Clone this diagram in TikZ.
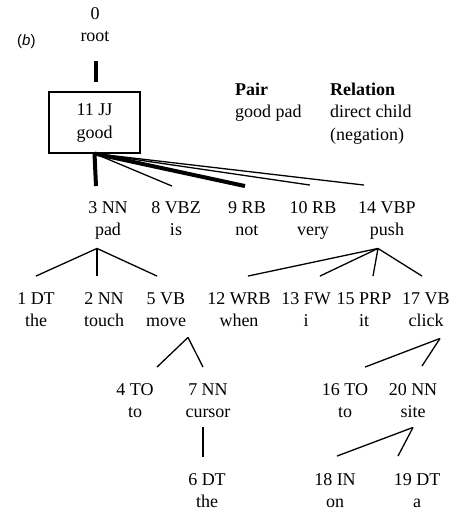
\documentclass[tikz,border=0pt]{standalone}
\usepackage{fontspec}
\setmainfont{Liberation Serif}
\newfontfamily\labelsans{Liberation Sans}
\usetikzlibrary{calc}
\begin{document}
\begin{tikzpicture}[x=1pt,y=-1pt,
  tok/.style={inner sep=0pt, align=center, font=\fontsize{18}{22.5}\selectfont},
  note/.style={inner sep=0pt, align=left, anchor=north west, font=\fontsize{18}{22.5}\selectfont},
  dep/.style={line width=1.3pt},
  strong/.style={line width=4pt},
  headbox/.style={draw, line width=1.1pt, minimum width=91pt, minimum height=61pt, inner sep=0pt}]
\useasboundingbox (0,0) rectangle (457,515);

% panel label
\node[anchor=base west, inner sep=0pt, font=\labelsans\fontsize{15}{18}\selectfont] (lbl) at (17,45) {(\textit{b})};

% tokens: index, tag and word
\node[tok] (root) at (95,25.75) {\strut 0\\\strut root};
\node[tok, headbox] (good) at (94.5,122.5) {\strut 11 JJ\\\strut good};

\node[tok] (n3)  at (108,219.75) {\strut 3 NN\\\strut pad};
\node[tok] (n8)  at (176,219.75) {\strut 8 VBZ\\\strut is};
\node[tok] (n9)  at (247,219.75) {\strut 9 RB\\\strut not};
\node[tok] (n10) at (313,219.75) {\strut 10 RB\\\strut very};
\node[tok] (n14) at (387,219.75) {\strut 14 VBP\\\strut push};

\node[tok] (n1)  at (36,310.75)  {\strut 1 DT\\\strut the};
\node[tok] (n2)  at (104,310.75) {\strut 2 NN\\\strut touch};
\node[tok] (n5)  at (166,310.75) {\strut 5 VB\\\strut move};
\node[tok] (n12) at (239,310.75) {\strut 12 WRB\\\strut when};
\node[tok] (n13) at (306,310.75) {\strut 13 FW\\\strut i};
\node[tok] (n15) at (364,310.75) {\strut 15 PRP\\\strut it};
\node[tok] (n17) at (426,310.75) {\strut 17 VB\\\strut click};

\node[tok] (n4)  at (135,401.75) {\strut 4 TO\\\strut to};
\node[tok] (n7)  at (208,401.75) {\strut 7 NN\\\strut cursor};
\node[tok] (n16) at (345,401.75) {\strut 16 TO\\\strut to};
\node[tok] (n20) at (413,401.75) {\strut 20 NN\\\strut site};

\node[tok] (n6)  at (207,491.75) {\strut 6 DT\\\strut the};
\node[tok] (n18) at (335,491.75) {\strut 18 IN\\\strut on};
\node[tok] (n19) at (417,491.75) {\strut 19 DT\\\strut a};

% pair / relation legend
\node[note] (pair) at (235,79.25) {\strut\textbf{Pair}\\\strut good pad};
\node[note] (rel)  at (330,79.25) {\strut\textbf{Relation}\\\strut direct child\\\strut (negation)};

% dependency arcs
\draw[strong] ($(root.south)+(1,13)$) -- ($(good.north)+(1.5,-9)$);

\draw[strong] (good.south) -- ($(n3.north)+(-12,-11)$);
\draw[dep]    (good.south) -- ($(n8.north)+(-4,-11)$);
\draw[strong] (good.south) -- ($(n9.north)+(-2,-11)$);
\draw[dep]    (good.south) -- ($(n10.north)+(-3,-12)$);
\draw[dep]    (good.south) -- ($(n14.north)+(-23,-12)$);

\coordinate (padtop) at ($(n3.south)+(-11,6)$);
\draw[dep] (padtop) -- ($(n1.north)+(0,-12)$);
\draw[dep] (padtop) -- ($(n2.north)+(-7,-12)$);
\draw[dep] (padtop) -- ($(n5.north)+(-9,-12)$);

\coordinate (pushtop) at ($(n14.south)+(-9,6)$);
\draw[dep] (pushtop) -- ($(n12.north)+(9,-12)$);
\draw[dep] (pushtop) -- ($(n13.north)+(14,-12)$);
\draw[dep] (pushtop) -- ($(n15.north)+(9,-12)$);
\draw[dep] (pushtop) -- ($(n17.north)+(-4,-12)$);

\coordinate (movetop) at ($(n5.south)+(22,4)$);
\draw[dep] (movetop) -- ($(n4.north)+(22,-12)$);
\draw[dep] (movetop) -- ($(n7.north)+(-5,-12)$);

\coordinate (clicktop) at ($(n17.south)+(14,5)$);
\draw[dep] (clicktop) -- ($(n16.north)+(20,-12)$);
\draw[dep] (clicktop) -- ($(n20.north)+(9,-13)$);

\draw[dep] ($(n7.south)+(-5,3)$) -- ($(n6.north)+(-4,-12)$);

\coordinate (sitetop) at ($(n20.south)+(0,3)$);
\draw[dep] (sitetop) -- ($(n18.north)+(2,-13)$);
\draw[dep] (sitetop) -- ($(n19.north)+(-19,-13)$);
\end{tikzpicture}
\end{document}
